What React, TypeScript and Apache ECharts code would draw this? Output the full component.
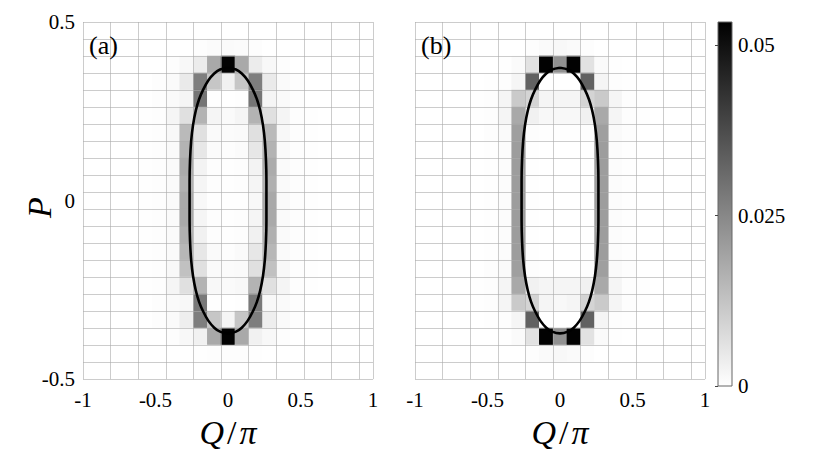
import React, { useEffect, useRef } from "react";
import * as echarts from "echarts";

// ---- data (values in units of 1e-3) ----
const CELL_COUNT = 21;
const SCALE = 1e-3;
const COLOR_MAX = 0.0534;
const Q_RANGE = [-1, 1];
const P_RANGE = [-0.5, 0.5];
const COLORBAR_TICKS = [0, 0.025, 0.05];

// rows listed from top (P = +0.5) to bottom (P = -0.5), columns from Q = -1 to 1
const PANEL_A = [
  [0, 0, 0, 0, 0, 0, 0, 0, 0, 0, 0, 0, 0, 0, 0, 0, 0, 0, 0, 0, 0],
  [0, 0, 0, 0, 0, 0, 0, 0, 0.5, 0.8, 1, 0.8, 0.5, 0, 0, 0, 0, 0, 0, 0, 0],
  [0, 0, 0, 0, 0, 0, 0.5, 1.5, 4, 18, 53, 18, 4, 1.5, 0.5, 0, 0, 0, 0, 0, 0],
  [0, 0, 0, 0, 0, 0.5, 1, 4.5, 27, 12, 3, 12, 27, 4.5, 1, 0.5, 0, 0, 0, 0, 0],
  [0, 0, 0, 0, 0, 0.5, 1, 2, 29, 0.3, 0, 0.3, 29, 2, 1, 0.5, 0, 0, 0, 0, 0],
  [0, 0, 0, 0, 0.3, 0.5, 2, 6.5, 16, 2, 1, 2, 16, 6.5, 2, 0.5, 0.3, 0, 0, 0, 0],
  [0, 0, 0, 0, 0.3, 0.5, 1.5, 14.5, 6.5, 1, 0.8, 1, 6.5, 14.5, 1.5, 0.5, 0.3, 0, 0, 0, 0],
  [0, 0, 0, 0, 0.3, 0.5, 1, 16, 5, 0.8, 0.5, 0.8, 5, 16, 1, 0.5, 0.3, 0, 0, 0, 0],
  [0, 0, 0, 0, 0.3, 0.5, 1, 17.5, 2.5, 0.5, 0.3, 0.5, 2.5, 17.5, 1, 0.5, 0.3, 0, 0, 0, 0],
  [0, 0, 0, 0, 0.3, 0.5, 1, 16.5, 2, 0.5, 0.3, 0.5, 2, 16.5, 1, 0.5, 0.3, 0, 0, 0, 0],
  [0, 0, 0, 0, 0.3, 0.5, 1, 18, 1.5, 0.3, 0.3, 0.3, 1.5, 18, 1, 0.5, 0.3, 0, 0, 0, 0],
  [0, 0, 0, 0, 0.3, 0.5, 1, 18, 2, 0.5, 0.3, 0.5, 2, 18, 1, 0.5, 0.3, 0, 0, 0, 0],
  [0, 0, 0, 0, 0.3, 0.5, 1, 16.5, 3, 0.5, 0.3, 0.5, 3, 16.5, 1, 0.5, 0.3, 0, 0, 0, 0],
  [0, 0, 0, 0, 0.3, 0.5, 1, 15, 5, 1, 0.5, 1, 5, 15, 1, 0.5, 0.3, 0, 0, 0, 0],
  [0, 0, 0, 0, 0.3, 0.5, 1.5, 13, 6.5, 1, 0.8, 1, 6.5, 13, 1.5, 0.5, 0.3, 0, 0, 0, 0],
  [0, 0, 0, 0, 0.3, 0.5, 2, 6.5, 16, 1.5, 1, 1.5, 16, 6.5, 2, 0.5, 0.3, 0, 0, 0, 0],
  [0, 0, 0, 0, 0, 0.5, 1, 1.5, 28, 0.3, 0, 0.3, 28, 1.5, 1, 0.5, 0, 0, 0, 0, 0],
  [0, 0, 0, 0, 0, 0.5, 1, 3.5, 27, 12, 2, 12, 27, 3.5, 1, 0.5, 0, 0, 0, 0, 0],
  [0, 0, 0, 0, 0, 0, 0.5, 1.5, 3, 18, 53, 18, 3, 1.5, 0.5, 0, 0, 0, 0, 0, 0],
  [0, 0, 0, 0, 0, 0, 0, 0, 0.3, 0.5, 0.5, 0.5, 0.3, 0, 0, 0, 0, 0, 0, 0, 0],
  [0, 0, 0, 0, 0, 0, 0, 0, 0, 0, 0, 0, 0, 0, 0, 0, 0, 0, 0, 0, 0],
];

const PANEL_B = [
  [0, 0, 0, 0, 0, 0, 0, 0, 0, 0, 0, 0, 0, 0, 0, 0, 0, 0, 0, 0, 0],
  [0, 0, 0, 0, 0, 0, 0, 0, 0.5, 1, 1.5, 1, 0.5, 0, 0, 0, 0, 0, 0, 0, 0],
  [0, 0, 0, 0, 0, 0, 0.3, 1, 6, 53, 23, 53, 6, 1, 0.3, 0, 0, 0, 0, 0, 0],
  [0, 0, 0, 0, 0, 0.3, 0.5, 2, 33, 0, 0, 0, 33, 2, 0.5, 0.3, 0, 0, 0, 0, 0],
  [0, 0, 0, 0, 0.3, 0.5, 2, 11, 9, 2, 2, 2, 9, 11, 2, 0.5, 0.3, 0, 0, 0, 0],
  [0, 0, 0, 0, 0.3, 0.5, 2, 18, 3, 1.5, 1.5, 1.5, 3, 18, 2, 0.5, 0.3, 0, 0, 0, 0],
  [0, 0, 0, 0, 0, 0.5, 1, 20, 0.5, 0.3, 0.3, 0.3, 0.5, 20, 1, 0.5, 0, 0, 0, 0, 0],
  [0, 0, 0, 0, 0, 0.3, 0.7, 20.5, 0.3, 0, 0, 0, 0.3, 20.5, 0.7, 0.3, 0, 0, 0, 0, 0],
  [0, 0, 0, 0, 0, 0.3, 0.7, 20.5, 0.3, 0, 0, 0, 0.3, 20.5, 0.7, 0.3, 0, 0, 0, 0, 0],
  [0, 0, 0, 0, 0, 0.3, 0.7, 20.5, 0.3, 0, 0, 0, 0.3, 20.5, 0.7, 0.3, 0, 0, 0, 0, 0],
  [0, 0, 0, 0, 0, 0.3, 0.7, 20.5, 0.3, 0, 0, 0, 0.3, 20.5, 0.7, 0.3, 0, 0, 0, 0, 0],
  [0, 0, 0, 0, 0, 0.3, 0.7, 20.5, 0.3, 0, 0, 0, 0.3, 20.5, 0.7, 0.3, 0, 0, 0, 0, 0],
  [0, 0, 0, 0, 0, 0.3, 0.7, 20.5, 0.3, 0, 0, 0, 0.3, 20.5, 0.7, 0.3, 0, 0, 0, 0, 0],
  [0, 0, 0, 0, 0, 0.3, 0.7, 20.5, 0.3, 0, 0, 0, 0.3, 20.5, 0.7, 0.3, 0, 0, 0, 0, 0],
  [0, 0, 0, 0, 0, 0.5, 1, 20, 0.5, 0.3, 0.3, 0.3, 0.5, 20, 1, 0.5, 0, 0, 0, 0, 0],
  [0, 0, 0, 0, 0.3, 0.5, 2, 18, 3, 2, 2, 2, 3, 18, 2, 0.5, 0.3, 0, 0, 0, 0],
  [0, 0, 0, 0, 0.3, 0.5, 2, 11, 9, 2, 1.5, 2, 9, 11, 2, 0.5, 0.3, 0, 0, 0, 0],
  [0, 0, 0, 0, 0, 0.3, 0.5, 2, 33, 0, 0, 0, 33, 2, 0.5, 0.3, 0, 0, 0, 0, 0],
  [0, 0, 0, 0, 0, 0, 0.3, 1, 6, 53, 23, 53, 6, 1, 0.3, 0, 0, 0, 0, 0, 0],
  [0, 0, 0, 0, 0, 0, 0, 0, 0.5, 1, 1.5, 1, 0.5, 0, 0, 0, 0, 0, 0, 0, 0],
  [0, 0, 0, 0, 0, 0, 0, 0, 0, 0, 0, 0, 0, 0, 0, 0, 0, 0, 0, 0, 0],
];

// closed orbit (Q/pi, P)
const ORBIT_Q = [
  0, 0.055, 0.095, 0.135, 0.172, 0.2, 0.222, 0.241, 0.254, 0.262, 0.265, 0.265,
  0.265, 0.262, 0.254, 0.241, 0.222, 0.2, 0.172, 0.135, 0.095, 0.055, 0,
  -0.055, -0.095, -0.135, -0.172, -0.2, -0.222, -0.241, -0.254, -0.262, -0.265, -0.265,
  -0.265, -0.262, -0.254, -0.241, -0.222, -0.2, -0.172, -0.135, -0.095, -0.055, 0,
];
const ORBIT_P = [
  0.372, 0.367, 0.356, 0.337, 0.31, 0.283, 0.252, 0.212, 0.167, 0.112, 0.056, 0,
  -0.056, -0.112, -0.167, -0.212, -0.252, -0.283, -0.31, -0.337, -0.356, -0.367, -0.372,
  -0.367, -0.356, -0.337, -0.31, -0.283, -0.252, -0.212, -0.167, -0.112, -0.056, 0,
  0.056, 0.112, 0.167, 0.212, 0.252, 0.283, 0.31, 0.337, 0.356, 0.367, 0.372,
];

const FONT = "Liberation Serif";
const CATS = Array.from({ length: CELL_COUNT }, (_, i) => String(i));

function toCells(rows: number[][]) {
  const out: number[][] = [];
  rows.forEach((row, r) => {
    row.forEach((v, c) => {
      out.push([c, CELL_COUNT - 1 - r, v * SCALE]);
    });
  });
  return out;
}

const orbit = ORBIT_Q.map((q, i) => [q, ORBIT_P[i]]);

const GRID_LINE = "rgba(170,170,170,0.6)";

const TICK_RICH = {
  t: { fontFamily: FONT, fontSize: 21, color: "#000" },
};

function tickFmt(v: number) {
  return "{t|" + String(v) + "}";
}

function catAxis(gridIndex: number) {
  return {
    type: "category",
    gridIndex,
    data: CATS,
    z: 3,
    axisLabel: { show: false },
    axisTick: { show: false },
    axisLine: { show: false },
    splitLine: { show: true, lineStyle: { color: GRID_LINE, width: 1 } },
  };
}

const Q_TITLE_RICH = {
  q: { fontSize: 34, fontStyle: "italic", fontFamily: FONT, color: "#000" },
  s: { fontSize: 34, fontFamily: FONT, color: "#000", padding: [0, 3, 0, 3] },
  p: { fontSize: 34, fontStyle: "italic", fontFamily: FONT, color: "#000" },
};

function qAxis(gridIndex: number) {
  return {
    type: "value",
    gridIndex,
    min: Q_RANGE[0],
    max: Q_RANGE[1],
    interval: 0.5,
    position: "bottom",
    z: 4,
    axisLine: { show: false },
    axisTick: { show: false },
    splitLine: { show: false },
    axisLabel: {
      fontSize: 21,
      fontFamily: FONT,
      color: "#000",
      margin: 10,
      formatter: tickFmt,
      rich: TICK_RICH,
    },
    name: "{q|Q}{s|/}{p|π}",
    nameLocation: "middle",
    nameGap: 34,
    nameTextStyle: { fontSize: 34, fontFamily: FONT, color: "#000", rich: Q_TITLE_RICH },
  };
}

function pAxis(gridIndex: number, withLabels: boolean) {
  return {
    type: "value",
    gridIndex,
    min: P_RANGE[0],
    max: P_RANGE[1],
    interval: 0.5,
    position: "left",
    z: 4,
    axisLine: { show: false },
    axisTick: { show: false },
    splitLine: { show: false },
    axisLabel: {
      show: withLabels,
      fontSize: 21,
      fontFamily: FONT,
      color: "#000",
      margin: 8,
      formatter: tickFmt,
      rich: TICK_RICH,
    },
    name: withLabels ? "P" : "",
    nameLocation: "middle",
    nameGap: 27,
    nameMoveOverlap: false,
    nameTextStyle: {
      fontSize: 34,
      fontStyle: "italic",
      fontFamily: FONT,
      color: "#000",
      padding: [0, 14, 0, 0],
    },
  };
}

const option: any = {
  animation: false,
  backgroundColor: "#ffffff",
  textStyle: { fontFamily: FONT },
  grid: [
    { left: 83, top: 22, width: 290, height: 364 },
    { left: 415, top: 22, width: 290, height: 364 },
    { left: 718, top: 22, width: 14, height: 364 },
  ],
  xAxis: [
    catAxis(0),
    qAxis(0),
    catAxis(1),
    qAxis(1),
    { type: "value", gridIndex: 2, show: false, min: 0, max: 1 },
  ],
  yAxis: [
    catAxis(0),
    pAxis(0, true),
    catAxis(1),
    pAxis(1, false),
    {
      type: "value",
      gridIndex: 2,
      min: 0,
      max: COLOR_MAX,
      interval: 0.025,
      position: "right",
      z: 5,
      axisLine: { show: false },
      splitLine: { show: false },
      axisTick: { show: true, inside: true, length: 3, lineStyle: { color: "#444" } },
      axisLabel: {
        showMaxLabel: false,
        fontSize: 21,
        fontFamily: FONT,
        color: "#000",
        margin: 6,
        rich: TICK_RICH,
        formatter: (v: number) => {
          const t = COLORBAR_TICKS.find((x) => Math.abs(x - v) < 1e-9);
          return t === undefined ? "" : "{t|" + String(t) + "}";
        },
      },
    },
  ],
  visualMap: {
    type: "continuous",
    show: false,
    seriesIndex: [0, 1],
    dimension: 2,
    min: 0,
    max: COLOR_MAX,
    inRange: { color: ["#ffffff", "#000000"] },
  },
  graphic: [
    {
      type: "rect",
      z: 1,
      shape: { x: 718, y: 22, width: 14, height: 364 },
      style: {
        fill: new echarts.graphic.LinearGradient(0, 0, 0, 1, [
          { offset: 0, color: "#000000" },
          { offset: 1, color: "#ffffff" },
        ]),
        stroke: "#666",
        lineWidth: 1,
      },
    },
    {
      type: "text",
      z: 10,
      x: 89,
      y: 32,
      style: { text: "(a)", fontSize: 26, fontFamily: FONT, fill: "#000" },
    },
    {
      type: "text",
      z: 10,
      x: 421,
      y: 32,
      style: { text: "(b)", fontSize: 26, fontFamily: FONT, fill: "#000" },
    },
  ],
  series: [
    {
      type: "heatmap",
      xAxisIndex: 0,
      yAxisIndex: 0,
      data: toCells(PANEL_A),
      itemStyle: { borderWidth: 0 },
      emphasis: { disabled: true },
    },
    {
      type: "heatmap",
      xAxisIndex: 2,
      yAxisIndex: 2,
      data: toCells(PANEL_B),
      itemStyle: { borderWidth: 0 },
      emphasis: { disabled: true },
    },
    {
      type: "line",
      xAxisIndex: 1,
      yAxisIndex: 1,
      data: orbit,
      symbol: "none",
      smooth: 0.3,
      z: 6,
      lineStyle: { color: "#000", width: 2.6 },
    },
    {
      type: "line",
      xAxisIndex: 3,
      yAxisIndex: 3,
      data: orbit,
      symbol: "none",
      smooth: 0.3,
      z: 6,
      lineStyle: { color: "#000", width: 2.6 },
    },
  ],
};

export default function App() {
  const ref = useRef<HTMLDivElement>(null);
  useEffect(() => {
    const chart = echarts.init(ref.current as HTMLDivElement, null, { renderer: "svg" });
    chart.setOption(option);
    return () => chart.dispose();
  }, []);
  return (
    <div
      ref={ref}
      style={{ position: "absolute", left: 0, top: 0, width: 830, height: 454, background: "#fff" }}
    />
  );
}
